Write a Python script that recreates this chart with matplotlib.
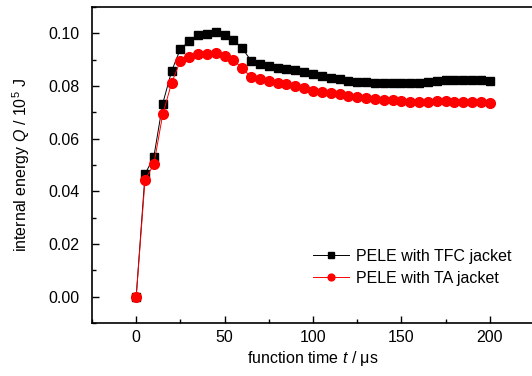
import matplotlib
matplotlib.use('Agg')
import matplotlib.pyplot as plt
from matplotlib.ticker import MultipleLocator

plt.rcParams['font.family'] = ['Liberation Sans', 'DejaVu Sans']
plt.rcParams['mathtext.fontset'] = 'custom'
plt.rcParams['mathtext.rm'] = 'Liberation Sans'
plt.rcParams['mathtext.it'] = 'Liberation Sans:italic'

# время срабатывания, мкс
t = list(range(0, 201, 5))

tfc = [0.0, 0.0465, 0.0532, 0.0733, 0.0856, 0.0941, 0.0970, 0.0994, 0.0999, 0.1006,
       0.0995, 0.0973, 0.0943, 0.0896, 0.0884, 0.0875, 0.0867, 0.0865, 0.0861, 0.0853,
       0.0844, 0.0837, 0.0832, 0.0828, 0.0820, 0.0815, 0.0816, 0.0813, 0.0810, 0.0811,
       0.0811, 0.0813, 0.0813, 0.0815, 0.0818, 0.0822, 0.0823, 0.0823, 0.0823, 0.0822,
       0.0819]
ta = [0.0, 0.0444, 0.0503, 0.0692, 0.0811, 0.0896, 0.0910, 0.0922, 0.0923, 0.0924,
      0.0915, 0.0899, 0.0867, 0.0834, 0.0828, 0.0819, 0.0810, 0.0806, 0.0801, 0.0792,
      0.0782, 0.0777, 0.0773, 0.0770, 0.0762, 0.0757, 0.0753, 0.0751, 0.0745, 0.0745,
      0.0744, 0.0741, 0.0740, 0.0741, 0.0742, 0.0744, 0.0741, 0.0740, 0.0739, 0.0738,
      0.0734]

fs = 11.5

fig = plt.figure(figsize=(5.32, 3.76), dpi=100)
ax = fig.add_axes([92 / 532, 1 - 323 / 376, 442 / 532, 316 / 376])

ax.plot(t, tfc, color='black', lw=0.7, marker='s', ms=6, label='PELE with TFC jacket')
ax.plot(t, ta, color='red', lw=0.7, marker='o', ms=7, label='PELE with TA jacket')

ax.set_xlim(-25, 225)
ax.set_ylim(-0.01, 0.11)
ax.xaxis.set_major_locator(MultipleLocator(50))
ax.xaxis.set_minor_locator(MultipleLocator(25))
ax.yaxis.set_major_locator(MultipleLocator(0.02))
ax.yaxis.set_minor_locator(MultipleLocator(0.01))
ax.yaxis.set_major_formatter(matplotlib.ticker.FormatStrFormatter('%.2f'))
ax.tick_params(which='both', direction='in', labelsize=fs, width=1)
ax.tick_params(which='major', length=5)
ax.tick_params(which='minor', length=3)
ax.tick_params(axis='y', pad=9)
ax.tick_params(axis='x', pad=5)
for s in ax.spines.values():
    s.set_linewidth(1.2)

ax.set_xlabel('function time $t$ / μs', fontsize=fs, labelpad=3)
ax.set_ylabel('internal energy $Q$ / 10$^5$ J', fontsize=fs, labelpad=12)

ax.legend(loc='upper left', bbox_to_anchor=(0.5, 0.235), frameon=False, fontsize=fs,
          markerscale=0.7, handlelength=2.25, handletextpad=0.45, labelspacing=0.45,
          borderpad=0, borderaxespad=0)

fig.savefig('out.png', dpi=100)
